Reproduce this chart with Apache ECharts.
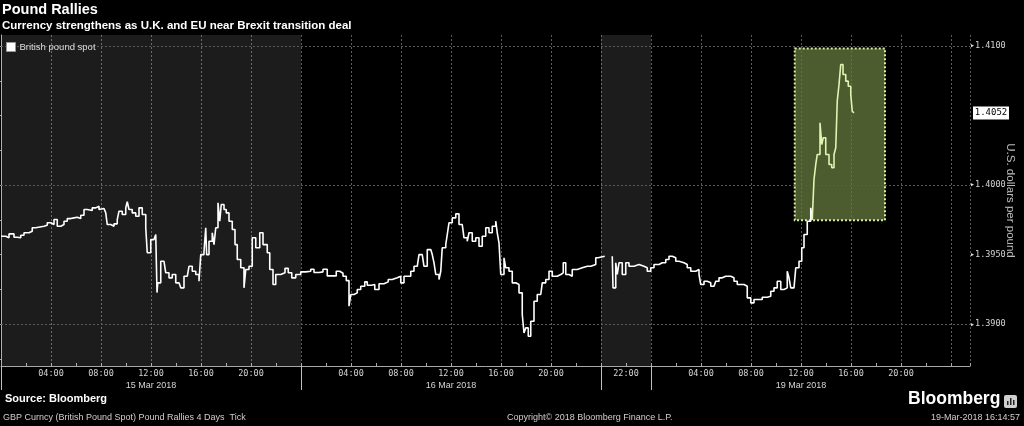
<!DOCTYPE html>
<html><head><meta charset="utf-8">
<script src="https://cdn.jsdelivr.net/npm/echarts@6/dist/echarts.min.js"></script>
<style>html,body{margin:0;padding:0;background:#000;}#c{width:1024px;height:426px;}</style>
</head><body><div id="c"></div>
<script>
// Compressed trading-time axis: hours since 15 Mar 2018 00:00 (weekend removed; 18 Mar 20:00-24:00 = 48..52)
const day15Hours = [0,0.38,0.64,1.04,1.30,1.58,1.84,2.24,2.50,2.78,3.44,3.70,3.98,4.24,4.50,4.78,5.04,5.30,5.58,5.84,6.10,6.38,6.64,6.90,7.30,7.58,7.84,7.98,8.24,8.38,8.50,8.78,9.04,9.30,9.44,9.70,9.98,10.10,10.24,10.50,10.78,11.04,11.30,11.58,11.70,11.98,12.24,12.38,12.48,12.54,12.78,13.04,13.18,13.44,13.70,13.98,14.24,14.38,14.64,14.90,15.04,15.30,15.58,15.84,15.98,16.24,16.38,16.45,16.64,16.90,17.04,17.18,17.36,17.50,17.62,17.84,18.02,18.24,18.50,18.72,18.90,19.18,19.44,19.58,19.84,20.10,20.38,20.70,20.96,21.30,21.50,21.76,21.98,22.38,22.72,22.98,23.26,23.58,23.98];
const day15Prices = [1.39633,1.39622,1.39650,1.39626,1.39622,1.39640,1.39658,1.39669,1.39694,1.39705,1.39712,1.39730,1.39717,1.39753,1.39705,1.39717,1.39741,1.39760,1.39765,1.39770,1.39760,1.39784,1.39825,1.39818,1.39837,1.39849,1.39825,1.39832,1.39837,1.39801,1.39717,1.39705,1.39722,1.39753,1.39813,1.39789,1.39837,1.39881,1.39825,1.39801,1.39777,1.39837,1.39789,1.39694,1.39514,1.39609,1.39597,1.39645,1.39228,1.39298,1.39453,1.39453,1.39370,1.39334,1.39358,1.39298,1.39286,1.39262,1.39345,1.39334,1.39417,1.39381,1.39358,1.39309,1.39501,1.39525,1.39694,1.39501,1.39597,1.39658,1.39573,1.39694,1.39873,1.39741,1.39861,1.39825,1.39801,1.39741,1.39681,1.39573,1.39466,1.39406,1.39262,1.39394,1.39417,1.39622,1.39550,1.39658,1.39573,1.39514,1.39394,1.39286,1.39358,1.39370,1.39402,1.39370,1.39334,1.39358,1.39377];

const day16Hours = [24.38,24.78,25.04,25.44,25.76,26.10,26.50,26.82,27.10,27.36,27.62,27.84,27.98,28.24,28.50,28.78,29.10,29.30,29.62,29.90,30.24,30.64,30.98,31.30,31.70,31.98,32.24,32.50,32.78,33.04,33.30,33.44,33.70,33.84,34.10,34.38,34.50,34.64,34.78,35.04,35.18,35.30,35.58,35.70,35.84,36.10,36.38,36.64,36.90,37.04,37.30,37.44,37.70,37.98,38.24,38.50,38.78,39.04,39.30,39.58,39.70,39.84,39.98,40.24,40.38,40.64,40.90,41.18,41.44,41.70,41.84,41.98,42.18,42.38,42.64,42.90,43.18,43.30,43.58,43.84,44.10,44.50,44.78,44.98,45.18,45.44,45.70,46.10,46.50,46.90,47.18,47.58,47.76];
const day16Prices = [1.39381,1.39396,1.39372,1.39377,1.39396,1.39348,1.39348,1.39381,1.39367,1.39345,1.39314,1.39130,1.39214,1.39226,1.39250,1.39273,1.39305,1.39281,1.39286,1.39250,1.39291,1.39305,1.39322,1.39334,1.39345,1.39298,1.39345,1.39345,1.39381,1.39417,1.39406,1.39501,1.39501,1.39417,1.39537,1.39537,1.39501,1.39442,1.39358,1.39322,1.39381,1.39550,1.39573,1.39645,1.39730,1.39765,1.39794,1.39717,1.39705,1.39622,1.39597,1.39658,1.39597,1.39622,1.39561,1.39633,1.39694,1.39658,1.39705,1.39741,1.39658,1.39586,1.39358,1.39478,1.39406,1.39381,1.39298,1.39286,1.39226,1.39070,1.38938,1.38974,1.38914,1.39022,1.39166,1.39214,1.39226,1.39298,1.39322,1.39381,1.39345,1.39358,1.39370,1.39442,1.39358,1.39345,1.39394,1.39406,1.39417,1.39417,1.39430,1.39478,1.39489];

const day18Hours = [48.90,48.96,49.18,49.30,49.44,49.70,49.98,50.24,50.64,51.04,51.44,51.70,51.98];
const day18Prices = [1.39489,1.39262,1.39442,1.39358,1.39442,1.39358,1.39442,1.39417,1.39430,1.39417,1.39406,1.39381,1.39406];

const day19Hours = [52.24,52.64,52.90,53.18,53.44,53.70,53.98,54.24,54.64,54.90,55.18,55.58,55.84,55.98,56.24,56.50,56.78,57.04,57.18,57.44,57.70,57.98,58.38,58.64,58.90,59.18,59.44,59.70,59.98,60.24,60.50,60.90,61.30,61.58,61.84,62.10,62.38,62.64,62.90,63.04,63.18,63.44,63.58,63.84,64.06,64.24,64.50,64.78,64.90,65.04,65.18,65.30,65.52,65.66,65.78,65.98,66.24,66.46,66.64,66.78,66.90,67.04,67.18,67.36,67.58,67.78,67.98,68.10,68.24];
const day19Prices = [1.39430,1.39442,1.39442,1.39466,1.39489,1.39478,1.39453,1.39442,1.39430,1.39406,1.39381,1.39394,1.39358,1.39286,1.39309,1.39298,1.39273,1.39262,1.39309,1.39334,1.39345,1.39345,1.39334,1.39309,1.39286,1.39286,1.39273,1.39190,1.39154,1.39178,1.39178,1.39194,1.39201,1.39237,1.39262,1.39309,1.39250,1.39262,1.39381,1.39334,1.39262,1.39273,1.39406,1.39453,1.39550,1.39645,1.39741,1.39837,1.39753,1.40041,1.40149,1.40221,1.40449,1.40293,1.40341,1.40221,1.40149,1.40125,1.40221,1.40269,1.40604,1.40724,1.40868,1.40796,1.40748,1.40712,1.40653,1.40532,1.40520];

const lastPrice = 1.4052;
const weekendGapHour = 48.3;
const timeLabelHours = [4,8,12,16,20,28,32,36,40,44,50,56,60,64,68,72];
const dayLabels = ['15 Mar 2018','16 Mar 2018','19 Mar 2018'];
const dayLabelHours = [12,36,64];
const sessionBreakHours = [0,24,48,52];
const shadedSessions = [[0,24],[48,52]];
const yLabelValues = [1.39,1.395,1.40,1.41];
const yTickValues = [1.3875,1.39,1.3925,1.395,1.3975,1.40,1.4025,1.405,1.4075,1.41];
const yGridValues = [1.39,1.395,1.40,1.405,1.41];
const highlightBox = {fromHour:63.50, toHour:70.72, low:1.39748, high:1.40983};
const highlightStartHour = 64.95;

const X_MIN = 0, X_MAX = 77.52, Y_MIN = 1.387, Y_MAX = 1.4108;
const GRID_LINE = '#5a5a5a', AXIS_COLOR = '#a8a8a8', LABEL_COLOR = '#d4d4d4';

function zip(h, p){ return h.map((x,i)=>[x,p[i]]); }
const allPoints = [].concat(
  zip(day15Hours, day15Prices),
  zip(day16Hours, day16Prices),
  [[weekendGapHour,'-']],
  zip(day18Hours, day18Prices),
  zip(day19Hours, day19Prices)
);
// split at the highlight start: white part and light-green part (sharing one point)
let splitIdx = allPoints.findIndex(p => p[0] >= highlightStartHour);
const whiteData = allPoints.slice(0, splitIdx);
const greenData = allPoints.slice(splitIdx - 1);

function clock(h){
  const t = h < 24 ? h : h < 48 ? h - 24 : h < 52 ? h - 28 : h - 52;
  return String(Math.round(t)).padStart(2,'0') + ':00';
}

const chart = echarts.init(document.getElementById('c'), null, {renderer:'canvas'});
const option = {
  backgroundColor:'#000',
  animation:false,
  title:{
    text:'Pound Rallies',
    subtext:'Currency strengthens as U.K. and EU near Brexit transition deal',
    left:2, top:2, padding:0, itemGap:3,
    textStyle:{color:'#fff', fontSize:14.5, fontWeight:'bold', fontFamily:'Liberation Sans'},
    subtextStyle:{color:'#fff', fontSize:11.5, fontWeight:'bold', fontFamily:'Liberation Sans'}
  },
  legend:{
    left:6, top:42, icon:'rect', itemWidth:9, itemHeight:9, itemGap:4, padding:0,
    textStyle:{color:'#ddd', fontSize:9.5, fontFamily:'Liberation Sans', padding:[0,0,0,-1]},
    data:[{name:'British pound spot', itemStyle:{color:'#fff', borderColor:'#999', borderWidth:1}}]
  },
  grid:{left:1, right:54, top:35, bottom:60, containLabel:false, outerBoundsMode:'none'},
  xAxis:[
    {
      type:'value', min:X_MIN, max:X_MAX, interval:4,
      axisLine:{lineStyle:{color:AXIS_COLOR}},
      axisTick:{show:true, inside:true, length:3, lineStyle:{color:AXIS_COLOR}},
      minorTick:{show:true, splitNumber:2, length:3, lineStyle:{color:AXIS_COLOR}},
      splitLine:{show:true, lineStyle:{color:GRID_LINE, type:[2,2], width:1}},
      axisLabel:{customValues:timeLabelHours, formatter:v=>clock(v), color:LABEL_COLOR, fontSize:8.5, fontFamily:'DejaVu Sans Mono', margin:3}
    },
    {
      type:'value', min:X_MIN, max:X_MAX, position:'bottom',
      axisLine:{show:false}, splitLine:{show:false},
      axisTick:{show:true, customValues:sessionBreakHours, length:24, lineStyle:{color:'#c0c0c0'}},
      axisLabel:{customValues:dayLabelHours, formatter:v=>dayLabels[dayLabelHours.indexOf(v)], color:LABEL_COLOR, fontSize:9, fontFamily:'Liberation Sans', margin:15}
    }
  ],
  yAxis:{
    type:'value', position:'right', min:Y_MIN, max:Y_MAX,
    axisLine:{show:true, lineStyle:{color:AXIS_COLOR}},
    axisTick:{show:true, customValues:yTickValues, inside:true, length:3, lineStyle:{color:AXIS_COLOR}},
    splitLine:{show:false},
    axisLabel:{customValues:yLabelValues, formatter:v=>'{t|▶}' + v.toFixed(4), color:LABEL_COLOR, fontSize:8.5, fontFamily:'DejaVu Sans Mono', margin:1,
      rich:{t:{fontSize:5, color:'#e0e0e0', padding:[0,1,0,0]}}},
    name:'U.S. dollars per pound', nameLocation:'middle', nameRotate:-90, nameGap:34, nameMoveOverlap:false,
    nameTextStyle:{color:'#bdbdbd', fontSize:11.5, fontFamily:'Liberation Sans'}
  },
  series:[
    {
      type:'line', name:'bg', data:[], silent:true, xAxisIndex:0,
      markArea:{
        silent:true,
        data: shadedSessions.map(s=>[{xAxis:s[0], itemStyle:{color:'rgba(255,255,255,0.11)'}},{xAxis:s[1]}]).concat([[
          {xAxis:highlightBox.fromHour, yAxis:highlightBox.high, itemStyle:{color:'rgba(104,124,62,0.74)', borderColor:'#d8eca0', borderWidth:2, borderType:[2,2]}},
          {xAxis:highlightBox.toHour, yAxis:highlightBox.low}
        ]])
      },
      markLine:{
        silent:true, symbol:'none', z:1,
        label:{show:false},
        lineStyle:{color:GRID_LINE, type:[2,2], width:1},
        data: yGridValues.map(v=>({yAxis:v}))
      }
    },
    {
      type:'line', name:'British pound spot', data:whiteData, step:'end', showSymbol:false,
      connectNulls:false, xAxisIndex:0, z:3, color:'#ffffff',
      lineStyle:{width:1.6, color:'#ffffff'}
    },
    {
      type:'line', name:'highlight', data:greenData, step:'end', showSymbol:false,
      xAxisIndex:0, z:3, color:'#e4f2b4',
      lineStyle:{width:1.6, color:'#e4f2b4'},
      markPoint:{
        silent:true,
        symbol:'rect', symbolSize:[36,13], symbolOffset:[21,0], symbolKeepAspect:false,
        itemStyle:{color:'#ffffff'},
        label:{show:true, position:'inside', formatter:()=>lastPrice.toFixed(4), color:'#000000',
          fontSize:9, fontFamily:'DejaVu Sans Mono'},
        data:[{coord:[X_MAX, lastPrice]}]
      }
    }
  ],
  graphic:[
    {type:'text', left:5, top:393, style:{text:'Source: Bloomberg', fill:'#fff', font:'bold 11px "Liberation Sans"'}},
    {type:'text', left:3, top:413, style:{text:'GBP Curncy (British Pound Spot) Pound Rallies 4 Days  Tick', fill:'#cfcfcf', font:'9px "Liberation Sans"'}},
    {type:'text', left:507, top:413, style:{text:'Copyright\u00A9 2018 Bloomberg Finance L.P.', fill:'#cfcfcf', font:'9px "Liberation Sans"'}},
    {type:'text', right:4, top:413, style:{text:'19-Mar-2018 16:14:57', fill:'#cfcfcf', font:'9px "Liberation Sans"'}},
    {type:'text', left:908, top:390, style:{text:'Bloomberg', fill:'#fff', font:'bold 17.5px "Liberation Sans"'}},
    {type:'group', left:1004, top:395, children:[
      {type:'rect', shape:{x:0, y:0, width:13, height:13, r:2}, style:{fill:'#cfcfcf'}},
      {type:'rect', shape:{x:3, y:6, width:1.5, height:4}, style:{fill:'#222'}},
      {type:'rect', shape:{x:6, y:3, width:1.5, height:7}, style:{fill:'#222'}},
      {type:'rect', shape:{x:9, y:5, width:1.5, height:5}, style:{fill:'#222'}}
    ]}
  ]
};
chart.setOption(option);
</script>
</body></html>
